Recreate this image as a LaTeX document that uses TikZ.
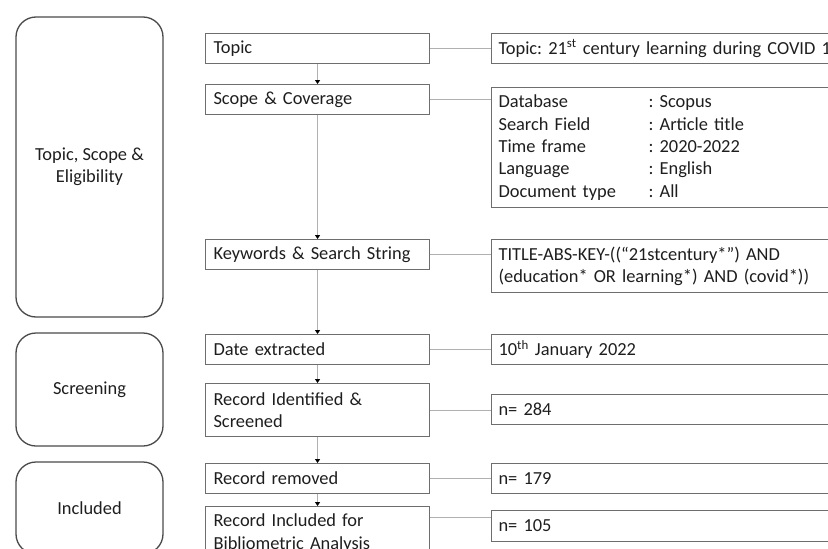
\documentclass[tikz,border=0pt]{standalone}
\usepackage{fontspec}
\setmainfont{Carlito}
\usetikzlibrary{arrows.meta}
\definecolor{inkgray}{HTML}{1E1E1E}
\definecolor{boxgray}{HTML}{6E6E6E}
\definecolor{phasegray}{HTML}{4A4A4A}
\definecolor{linkgray}{HTML}{B0B0B0}
\begin{document}
\frenchspacing
\begin{tikzpicture}
[x=1pt,y=-1pt,
  every node/.style={font=\fontsize{18.4}{22.3}\selectfont,text=inkgray},%
  phasedecorate/.style={shape=rectangle,draw=phasegray,line width=1.3pt,
    rounded corners=20pt,minimum width=147pt,align=center},%
  stepdecorate/.style={shape=rectangle,draw=boxgray,line width=1.1pt,
    anchor=north west,minimum width=224pt,text width=208pt,
    inner xsep=8pt,inner ysep=0pt,align=left},%
  infodecorate/.style={shape=rectangle,draw=boxgray,line width=1.1pt,
    anchor=north west,minimum width=420pt,text width=406pt,
    inner xsep=7pt,inner ysep=0pt,align=left},%
  arrowdecorate/.style={-{Triangle[length=4pt,width=5pt,color=black]},linkgray,line width=1pt},%
  linkdecorate/.style={-,linkgray,line width=1pt}]
\useasboundingbox (0,0) rectangle (828,549);
\clip (0,0) rectangle (828,549);
%% phases on the left
\foreach \nodename/\y/\h/\txt in {tse/167/300/{Topic, Scope \&\\Eligibility},
  scr/389.5/113/Screening, inc/508/92/Included}
{
  \node (\nodename) at (89.5,\y) [phasedecorate,minimum height=\h pt] {\txt};
}
%% steps in the middle
\foreach \nodename/\y/\h/\txt in {topic/33/30/Topic,
  scope/84/30/{Scope \& Coverage},
  keys/239/30/{Keywords \& Search String},
  date/334/30/{Date extracted},
  recid/383/53/{Record Identified \&\\Screened},
  recrem/463/30/{Record removed},
  recinc/506/53/{Record Included for\\Bibliometric Analysis}}
{
  \node (\nodename) at (205,\y) [stepdecorate,minimum height=\h pt] {\txt};
}
%% details on the right
\node (topicinfo) at (491,33) [infodecorate,minimum height=30pt]
  {Topic: 21\textsuperscript{st} century learning during COVID 19};
\node (scopeinfo) at (491,87) [infodecorate,minimum height=120pt]
  {\makebox[150pt][l]{Database}: Scopus\\
   \makebox[150pt][l]{Search Field}: Article title\\
   \makebox[150pt][l]{Time frame}: 2020-2022\\
   \makebox[150pt][l]{Language}: English\\
   \makebox[150pt][l]{Document type}: All};
\node (keysinfo) at (491,239) [infodecorate,minimum height=53pt]
  {TITLE-ABS-KEY-((“21stcentury*”) AND\\(education* OR learning*) AND (covid*))};
\node (dateinfo) at (491,334) [infodecorate,minimum height=30pt]
  {10\textsuperscript{th} January 2022};
\node (recidinfo) at (491,394) [infodecorate,minimum height=30pt] {n= 284};
\node (reminfo) at (491,463) [infodecorate,minimum height=30pt] {n= 179};
\node (incinfo) at (491,510) [infodecorate,minimum height=31pt] {n= 105};
%% arrows down the middle
\path
\foreach \startnode/\endnode in {topic/scope, scope/keys, keys/date,
  date/recid, recid/recrem, recrem/recinc}
{
  (\startnode.south) edge[arrowdecorate] (\endnode.north)
};
%% lines to the details
\path
\foreach \startnode/\endnode in {topic/topicinfo, scope/scopeinfo,
  keys/keysinfo, date/dateinfo, recid/recidinfo, recrem/reminfo}
{
  (\startnode.east) edge[linkdecorate] (\startnode.east -| \endnode.west)
};
\coordinate (incjoin) at ([yshift=-11pt]recinc.north east);
\draw[linkdecorate] (incjoin) -- (incjoin -| incinfo.west);
\end{tikzpicture}
\end{document}
